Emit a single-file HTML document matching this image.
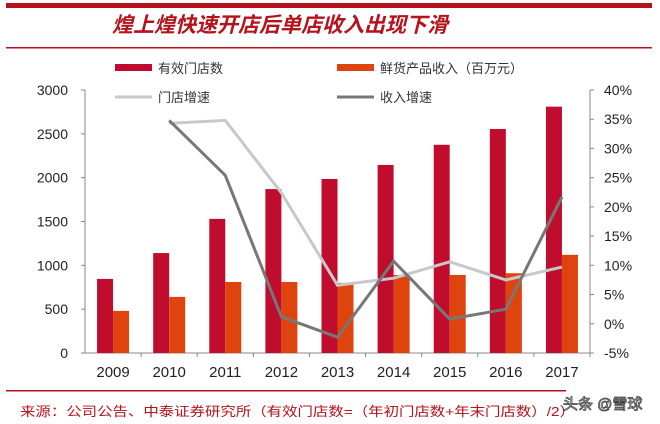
<!DOCTYPE html>
<html><head><meta charset="utf-8"><style>
body{margin:0;width:660px;height:419px;background:#fff;overflow:hidden;font-family:"Liberation Sans","Noto Sans CJK SC",sans-serif}
svg text{font-family:"Liberation Sans","Noto Sans CJK SC",sans-serif}
</style></head><body>
<svg width="660" height="419">
<rect x="6" y="3" width="646" height="5" fill="#b5121b"/>
<rect x="6" y="47" width="646" height="1.5" fill="#b5121b"/>
<text x="112" y="32" font-size="21" font-style="italic" font-weight="bold" fill="#b5121b">煌上煌快速开店后单店收入出现下滑</text>
<g>
<rect x="115" y="64" width="37" height="7" fill="#c00d2e"/>
<text x="158" y="73" font-size="13" fill="#333">有效门店数</text>
<rect x="337" y="64" width="37" height="7" fill="#e0440e"/>
<text x="380" y="73" font-size="13" fill="#333">鲜货产品收入（百万元）</text>
<line x1="115" y1="97" x2="152" y2="97" stroke="#c8c8c8" stroke-width="3"/>
<text x="158" y="102" font-size="13" fill="#333">门店增速</text>
<line x1="337" y1="97" x2="374" y2="97" stroke="#777" stroke-width="3"/>
<text x="380" y="102" font-size="13" fill="#333">收入增速</text>
</g>
<g id="plot"></g>
<rect x="6" y="390" width="560" height="1.5" fill="#b5121b"/>
<text x="20" y="416" font-size="13" fill="#b5121b" textLength="555" lengthAdjust="spacingAndGlyphs">来源：公司公告、中泰证券研究所（有效门店数=（年初门店数+年末门店数）/2）</text>
<text x="563" y="409" font-size="15" fill="#fff" stroke="#444" stroke-width="0.8">头条 @雪球</text>
</svg>
<script>
const years=["2009","2010","2011","2012","2013","2014","2015","2016","2017"];
const stores=[845,1140,1530,1870,1985,2145,2375,2555,2810];
const revenue=[480,640,810,810,800,890,890,910,1120];
const storeGrowth=[null,34.3,34.8,22.4,6.6,7.8,10.6,7.5,9.7];
const revenueGrowth=[null,34.8,25.4,1.2,-2.3,10.7,0.8,2.5,21.7];
const leftTicks=[0,500,1000,1500,2000,2500,3000];
const rightTicks=[-5,0,5,10,15,20,25,30,35,40];
const NS="http://www.w3.org/2000/svg",g=document.getElementById('plot');
const X0=85,X1=590,Y0=353,Y1=90,slot=(X1-X0)/years.length;
const yL=v=>Y0-(v/3000)*(Y0-Y1);
const yR=v=>Y0-((v+5)/45)*(Y0-Y1);
const cx=i=>X0+slot*(i+0.5);
function mk(t,a){const e=document.createElementNS(NS,t);for(const k in a)e.setAttribute(k,a[k]);g.appendChild(e);return e;}
let e;
e=mk('line',{x1:X0,y1:Y1,x2:X0,y2:Y0,stroke:'#888'});


e=mk('line',{x1:X1,y1:Y1,x2:X1,y2:Y0,stroke:'#888'});


e=mk('line',{x1:X0,y1:Y0,x2:X1,y2:Y0,stroke:'#888'});


leftTicks.forEach(v=>{
 mk('line',{x1:X0-4,y1:yL(v),x2:X0,y2:yL(v),stroke:'#888'});
 e=mk('text',{x:X0-17,y:yL(v)+5,'font-size':14,'text-anchor':'end',fill:'#222'});e.textContent=v;
 
 
});
rightTicks.forEach(v=>{
 mk('line',{x1:X1,y1:yR(v),x2:X1+4,y2:yR(v),stroke:'#888'});
 e=mk('text',{x:X1+14,y:yR(v)+5,'font-size':14,fill:'#222'});e.textContent=v+'%';
 
 
});
years.forEach((y,i)=>{
 mk('line',{x1:X0+slot*(i+1),y1:Y0,x2:X0+slot*(i+1),y2:Y0+4,stroke:'#888'});
 e=mk('text',{x:cx(i),y:Y0+24,'font-size':15,'text-anchor':'middle',fill:'#222'});e.textContent=y;
 
 
 e=mk('rect',{x:cx(i)-16,y:yL(stores[i]),width:16,height:Y0-yL(stores[i]),fill:'#c00d2e'});
 
 
 e=mk('rect',{x:cx(i),y:yL(revenue[i]),width:16,height:Y0-yL(revenue[i]),fill:'#e0440e'});
 
 
});
function line(arr,col,name){
 const pts=arr.map((v,i)=>v==null?null:cx(i)+','+yR(v)).filter(p=>p).join(' ');
 const l=mk('polyline',{points:pts,fill:'none',stroke:col,'stroke-width':3});
 
 
}
line(storeGrowth,'#c8c8c8','line-store-growth');
line(revenueGrowth,'#777','line-revenue-growth');
</script>
</body></html>
